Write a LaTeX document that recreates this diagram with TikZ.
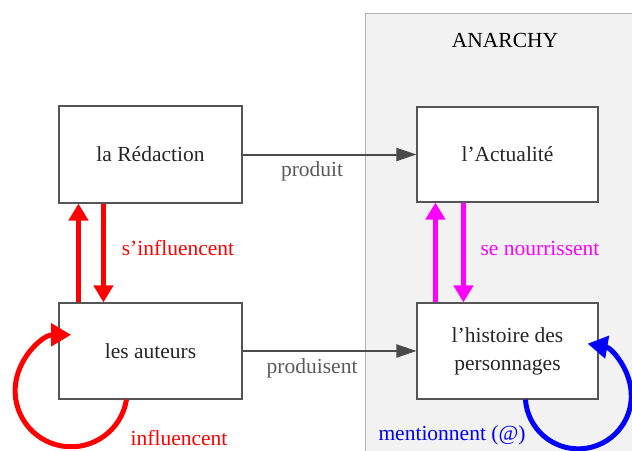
\documentclass[tikz,border=0pt]{standalone}
\usepackage{fontspec}
\setmainfont{Liberation Serif}
\usetikzlibrary{arrows.meta,calc}
\definecolor{boxline}{HTML}{555555}
\definecolor{conn}{HTML}{4A4A4A}
\definecolor{lbl}{HTML}{5A5A5A}
\definecolor{area}{HTML}{F2F2F2}
\definecolor{arealine}{HTML}{B4B4B4}
\definecolor{magen}{HTML}{FF00FF}
\definecolor{redc}{HTML}{FF0000}
\definecolor{bluec}{HTML}{0000FF}
\tikzset{
  x=1pt, y=-1pt,
  every node/.style={font=\fontsize{21.5}{28}\selectfont},
  box/.style={draw=boxline, line width=1.1pt, fill=white, text=black!85, align=center, inner sep=0pt},
  graylink/.style={draw=conn, line width=2pt, -{Triangle[length=20pt,width=13pt]}},
  bigarrow/.style={line width=5pt, -{Triangle[length=17pt,width=19pt]}},
  looparrow/.style={line width=5pt, -{Triangle[length=20pt,width=22pt]}},
}
\begin{document}
\begin{tikzpicture}
\useasboundingbox (0,0) rectangle (632,450);
\path[fill=area, draw=arealine, line width=1pt] (365,13) rectangle (640,460);
\node (title) at (505,40) {ANARCHY};

\node[box, minimum width=183pt, minimum height=97pt] (redac) at (150.5,154.5) {la Rédaction};
\node[box, minimum width=183pt, minimum height=96pt] (aut) at (150.5,351) {les auteurs};
\node[box, minimum width=181pt, minimum height=95pt] (actu) at (507.5,154.5) {l’Actualité};
\node[box, minimum width=181pt, minimum height=96pt] (hist) at (507.5,351) {l’histoire des\\personnages};

\draw[graylink] (redac.east) -- (actu.west) node[pos=0.4, below=3pt, text=lbl] {produit};
\draw[graylink] (aut.east) -- (hist.west) node[pos=0.4, below=3pt, text=lbl] {produisent};

\draw[bigarrow, redc] ($(aut.north west)+(20,0)$) -- ($(redac.south west)+(20,0)$);
\draw[bigarrow, redc] ($(redac.south west)+(45,0)$) -- ($(aut.north west)+(45,0)$);
\node[text=redc] (lab1) at (178,248) {s’influencent};

\draw[bigarrow, magen] ($(hist.north west)+(19,0)$) -- ($(actu.south west)+(19,0)$);
\draw[bigarrow, magen] ($(actu.south west)+(47,0)$) -- ($(hist.north west)+(47,0)$);
\node[text=magen] (lab2) at (540,248) {se nourrissent};

\draw[looparrow, redc] ($(aut.south west)+(68,0)$) arc[start angle=9, end angle=270, radius=56];
\node[text=redc] (lab3) at (179,438) {influencent};

\draw[looparrow, bluec] ($(hist.south west)+(109,0)$) arc[start angle=176, end angle=-80, radius=53];
\node[text=bluec] (lab4) at (452,435) {mentionnent (@)};
\end{tikzpicture}
\end{document}
